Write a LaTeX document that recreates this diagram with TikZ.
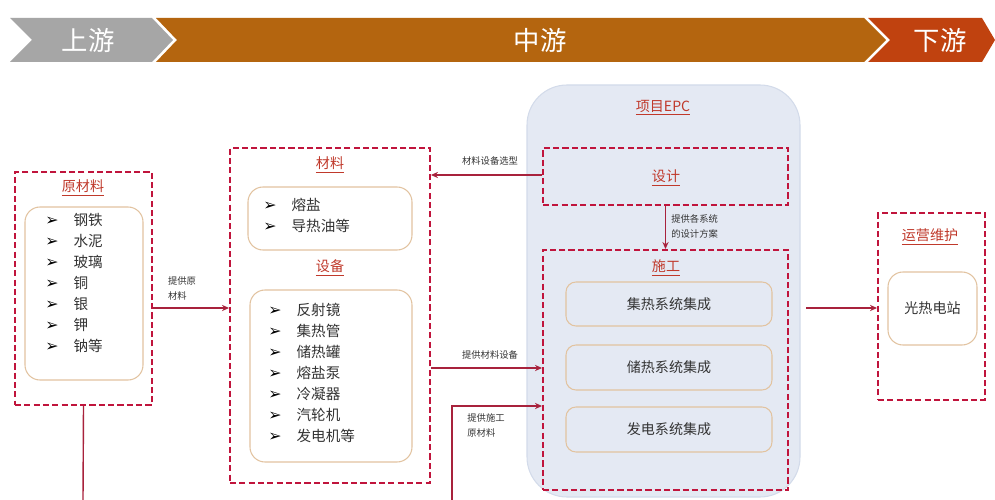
\documentclass[tikz,border=0pt]{standalone}
\usepackage{fontspec}
\newfontfamily\cjk{Noto Sans CJK SC}
\newfontfamily\sym{DejaVu Sans}
\usetikzlibrary{fit,arrows.meta}
\definecolor{dred}{HTML}{C0143C}
\definecolor{tred}{HTML}{C0392B}
\definecolor{cred}{HTML}{A8223C}
\definecolor{tanb}{HTML}{E2C3A0}
\definecolor{epcbg}{HTML}{E4E9F3}
\definecolor{epcbd}{HTML}{D3DBEA}
\definecolor{bgray}{HTML}{A6A6A6}
\definecolor{bbrown}{HTML}{B4650F}
\definecolor{bred}{HTML}{C0420F}
\definecolor{txt}{HTML}{333333}
\tikzset{
  dbox/.style={draw=dred, line width=1.1pt, dash pattern=on 3.5pt off 1.8pt, inner sep=0pt},
  ibox/.style={draw=tanb, line width=0.6pt, rounded corners=0.3cm, fill=white, inner sep=0pt},
  sbox/.style={draw=tanb, line width=0.6pt, rounded corners=0.2cm, fill=epcbg, inner sep=0pt},
  ttl/.style={text=tred, font=\cjk\fontsize{8}{9}\selectfont},
  itm/.style={text=txt, font=\cjk\fontsize{8.3}{11.9}\selectfont, align=left, inner sep=0pt, anchor=north west},
  sys/.style={text=txt, font=\cjk\fontsize{8}{9}\selectfont},
  lbl/.style={text=txt, font=\cjk\fontsize{5.3}{8.5}\selectfont, align=left, inner sep=0pt},
  conn/.style={draw=cred, line width=0.8pt, -{Stealth[length=4pt,width=3.5pt]}},
  plain/.style={draw=cred, line width=0.8pt},
  ban/.style={text=white, font=\cjk\fontsize{15}{16}\selectfont}
}
\newcommand{\ar}{{\sym\color{black}\fontsize{9}{8}\selectfont ➢}\hspace{0.3cm}}
\begin{document}
\begin{tikzpicture}[x=0.02cm,y=-0.02cm]
\useasboundingbox[fill=white] (0,0) rectangle (995,500);
% banner
\fill[bgray] (10,18)--(152,18)--(173,40)--(152,62)--(10,62)--(32,40)--cycle;
\fill[bbrown] (156,18)--(864,18)--(886,40)--(864,62)--(156,62)--(177,40)--cycle;
\fill[bred] (868,18)--(982,18)--(995,40)--(982,62)--(868,62)--(890,40)--cycle;
\node[ban] (up) at (88,40) {上游};
\node[ban] (mid) at (540,40) {中游};
\node[ban] (down) at (940,40) {下游};
% EPC background
\node[fill=epcbg, draw=epcbd, line width=0.6pt, rounded corners=0.8cm, inner sep=0pt, fit={(527,85)(800,497)}] (epc) {};
\node[ttl] (epct) at (663,108) {\underline{项目EPC}};
% raw materials
\node[dbox, fit={(15,172)(152,405)}] (raw) {};
\node[ttl] (rawt) at (83,188) {\underline{原材料}};
\node[ibox, fit={(25,207)(143,380)}] (rawi) {};
\node[itm] (rawl) at (45,213) {\ar 钢铁\\\ar 水泥\\\ar 玻璃\\\ar 铜\\\ar 银\\\ar 钾\\\ar 钠等};
% materials and equipment
\node[dbox, fit={(230,148)(430,483)}] (me) {};
\node[ttl] (mat) at (330,165) {\underline{材料}};
\node[ibox, fit={(248,187)(412,250)}] (mati) {};
\node[itm] (matl) at (263,198) {\ar 熔盐\\\ar 导热油等};
\node[ttl] (eq) at (330,268) {\underline{设备}};
\node[ibox, fit={(250,290)(412,462)}] (eqi) {};
\node[itm] (eql) at (268,303) {\ar 反射镜\\\ar 集热管\\\ar 储热罐\\\ar 熔盐泵\\\ar 冷凝器\\\ar 汽轮机\\\ar 发电机等};
% design
\node[dbox, fit={(543,148)(788,205)}] (des) {};
\node[ttl] (dest) at (666,178) {\underline{设计}};
% construction
\node[dbox, fit={(543,250)(788,490)}] (con) {};
\node[ttl] (cont) at (666,268) {\underline{施工}};
\node[sbox, fit={(566,282)(772,326)}] (s1) {};
\node[sys] at (s1) {集热系统集成};
\node[sbox, fit={(566,345)(772,390)}] (s2) {};
\node[sys] at (s2) {储热系统集成};
\node[sbox, fit={(566,407)(772,452)}] (s3) {};
\node[sys] at (s3) {发电系统集成};
% O&M
\node[dbox, fit={(878,213)(985,400)}] (om) {};
\node[ttl] (omt) at (930,237) {\underline{运营维护}};
\node[ibox, fit={(888,272)(977,345)}] (omi) {};
\node[sys] at (omi) {光热电站};
% connectors
\draw[conn] (raw.east |- 0,308) -- (me.west |- 0,308);
\node[lbl] (l1) at (182,288) {提供原\\材料};
\draw[conn] (des.west |- 0,175) -- (me.east |- 0,175) ;
\node[lbl] (l2) at (490,161) {材料设备选型};
\draw[conn] (me.east |- 0,368) -- (con.west |- 0,368);
\node[lbl] (l3) at (490,355) {提供材料设备};
\coordinate (b1) at (83,500);
\coordinate (b2) at (452,500);
\draw[plain] (raw.south) -- (b1);
\draw[conn] (b2) |- (con.west |- 0,406);
\node[lbl] (l4) at (486,425) {提供施工\\原材料};
\draw[conn] (des.south) -- (con.north);
\node[lbl, anchor=west] (l5) at (671,226) {提供各系统\\的设计方案};
\coordinate (c1) at (806,308);
\draw[conn] (c1) -- (om.west |- c1);
\end{tikzpicture}
\end{document}
